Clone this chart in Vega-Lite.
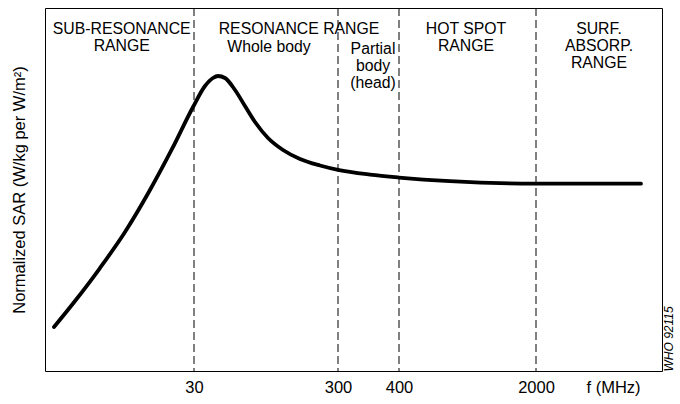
{
  "$schema": "https://vega.github.io/schema/vega-lite/v6.json",
  "width": 617,
  "height": 363,
  "autosize": {"type": "none"},
  "padding": {"left": 45, "top": 8, "right": 18, "bottom": 33},
  "background": "white",
  "config": {
    "view": {"stroke": "black", "strokeWidth": 1},
    "font": "Liberation Sans",
    "axis": {"grid": false, "ticks": false, "domain": false}
  },
  "layer": [
    {
      "data": {"values": [{"f": 30}, {"f": 300}, {"f": 400}, {"f": 2000}]},
      "mark": {"type": "rule", "color": "black", "strokeWidth": 1, "strokeDash": [8, 4]},
      "encoding": {
        "x": {
          "field": "f", "type": "quantitative",
          "scale": {"domain": [10, 30, 300, 400, 2000, 4000, 5000], "range": [0, 149, 293, 354, 491, 568, 617], "nice": false, "zero": false},
          "axis": {
            "title": null,
            "values": [30, 300, 400, 2000, 4000],
            "format": "d",
            "labelExpr": "datum.value == 4000 ? 'f (MHz)' : datum.label",
            "labelFontSize": 16.5,
            "labelColor": "black",
            "labelPadding": 8,
            "labelOverlap": false,
            "labelFlush": false
          }
        }
      }
    },
    {
      "data": {"values": [
        {"f": 11.21, "v": 12.12}, {"f": 14.03, "v": 19.28}, {"f": 17.38, "v": 28.37}, {"f": 20.74, "v": 38.29},
        {"f": 24.09, "v": 49.86}, {"f": 27.05, "v": 61.16}, {"f": 29.87, "v": 72.73}, {"f": 50.6, "v": 78.51},
        {"f": 65.6, "v": 80.72}, {"f": 75, "v": 81.27}, {"f": 88.1, "v": 80.72}, {"f": 106.9, "v": 77.41},
        {"f": 125.6, "v": 73.0}, {"f": 144.4, "v": 68.6}, {"f": 168.75, "v": 64.19}, {"f": 196.9, "v": 60.88},
        {"f": 228.75, "v": 58.4}, {"f": 266.25, "v": 56.6}, {"f": 300, "v": 55.4}, {"f": 352.5, "v": 54.1},
        {"f": 400, "v": 53.3}, {"f": 995.6, "v": 52.3}, {"f": 2000, "v": 51.6}, {"f": 4571, "v": 51.6}
      ]},
      "mark": {"type": "line", "color": "black", "strokeWidth": 3.8, "interpolate": "monotone", "strokeCap": "round"},
      "encoding": {
        "x": {"field": "f", "type": "quantitative"},
        "y": {
          "field": "v", "type": "quantitative",
          "scale": {"domain": [0, 100], "nice": false, "zero": false},
          "axis": {
            "orient": "left",
            "labels": false,
            "title": "Normalized SAR (W/kg per W/m²)",
            "titleFontSize": 16.5,
            "titleFontWeight": "normal",
            "titleColor": "black",
            "titlePadding": 18
          }
        }
      }
    },
    {
      "data": {"values": [
        {"f": 20.3, "v": 96.1, "label": "SUB-RESONANCE\nRANGE"},
        {"f": 226.9, "v": 96.1, "label": "RESONANCE RANGE"},
        {"f": 170.6, "v": 91.2, "label": "Whole body"},
        {"f": 357.4, "v": 90.6, "label": "Partial\nbody\n(head)"},
        {"f": 1182.6, "v": 96.1, "label": "HOT SPOT\nRANGE"},
        {"f": 3636, "v": 96.1, "label": "SURF.\nABSORP.\nRANGE"}
      ]},
      "mark": {"type": "text", "align": "center", "baseline": "top", "fontSize": 15.8, "lineBreak": "\n", "lineHeight": 17, "color": "black"},
      "encoding": {
        "x": {"field": "f", "type": "quantitative"},
        "y": {
          "field": "v", "type": "quantitative",
          "axis": {
            "orient": "right",
            "labels": false,
            "title": "WHO 92115",
            "titleFontSize": 12,
            "titleFontStyle": "italic",
            "titleFontWeight": "normal",
            "titleColor": "black",
            "titleAngle": 270,
            "titleAnchor": "start",
            "titlePadding": 13
          }
        },
        "text": {"field": "label", "type": "nominal"}
      }
    }
  ]
}
